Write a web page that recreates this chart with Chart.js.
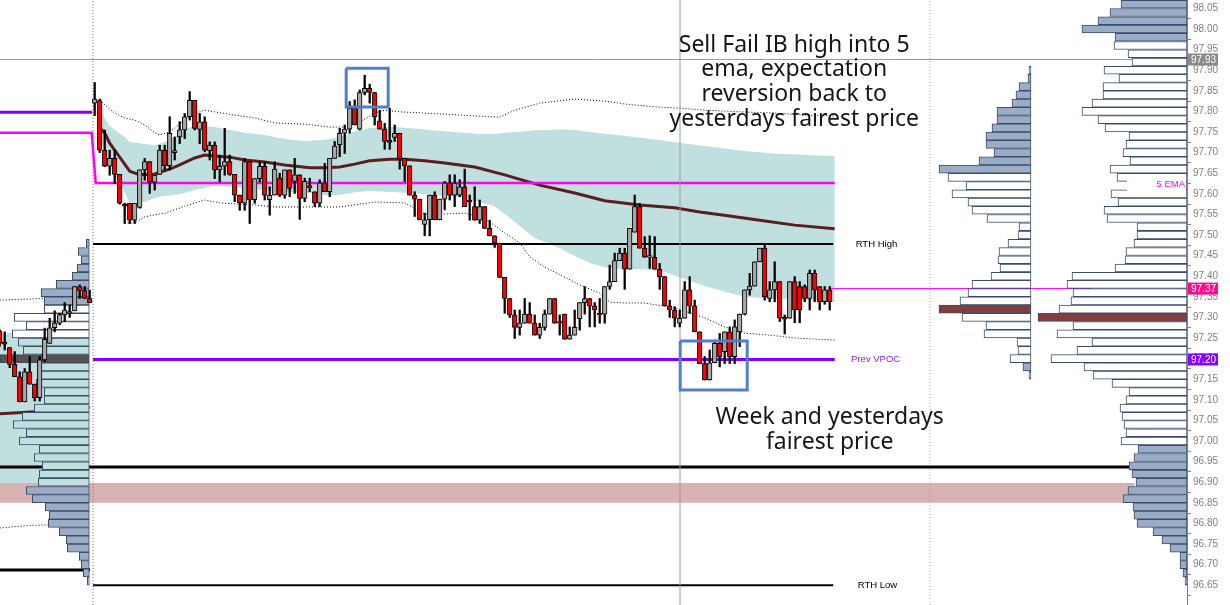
<!DOCTYPE html>
<html>
<head>
<meta charset="utf-8">
<script src="https://cdn.jsdelivr.net/npm/chart.js@4.4.0/dist/chart.umd.min.js"></script>
<style>
  html, body { margin: 0; padding: 0; background: #fff; }
  #wrap { width: 1230px; height: 605px; position: relative; }
</style>
</head>
<body>
<div id="wrap"><canvas id="chart"></canvas></div>
<script>
// right price axis
const priceTicks = [96.65, 96.70, 96.75, 96.80, 96.85, 96.90, 96.95, 97.00, 97.05, 97.10,
  97.15, 97.20, 97.25, 97.30, 97.35, 97.40, 97.45, 97.50, 97.55, 97.60, 97.65, 97.70,
  97.75, 97.80, 97.85, 97.90, 97.95, 98.00, 98.05];

// candles: 19 from the prior session (index -19..-1), then today's RTH bars (0..147)
const firstIndex = -19;
const opens = [
  97.267, 97.240, 97.227, 97.186, 97.156, 97.095, 97.168, 97.138, 97.105, 97.197,
  97.237, 97.275, 97.286, 97.306, 97.310, 97.316, 97.375, 97.365, 97.346,
  97.820, 97.826, 97.706, 97.667, 97.686, 97.647, 97.575, 97.577, 97.536, 97.567,
  97.658, 97.678, 97.628, 97.647, 97.706, 97.668, 97.700, 97.738, 97.755, 97.787,
  97.827, 97.756, 97.775, 97.705, 97.718, 97.658, 97.667, 97.678, 97.647, 97.597,
  97.577, 97.678, 97.586, 97.637, 97.667, 97.586, 97.597, 97.638, 97.597, 97.658,
  97.630, 97.646, 97.589, 97.620, 97.605, 97.577, 97.626, 97.605, 97.686, 97.719,
  97.747, 97.757, 97.808, 97.757, 97.846, 97.856, 97.846, 97.777, 97.757, 97.730,
  97.737, 97.747, 97.686, 97.668, 97.597, 97.587, 97.526, 97.537, 97.597, 97.537,
  97.587, 97.626, 97.597, 97.597, 97.617, 97.585, 97.569, 97.536, 97.569, 97.516,
  97.498, 97.480, 97.397, 97.346, 97.306, 97.276, 97.286, 97.308, 97.286, 97.257,
  97.276, 97.308, 97.346, 97.290, 97.308, 97.247, 97.257, 97.297, 97.336, 97.346,
  97.328, 97.310, 97.308, 97.375, 97.387, 97.438, 97.456, 97.417, 97.507, 97.569,
  97.468, 97.446, 97.446, 97.417, 97.399, 97.328, 97.318, 97.286, 97.298, 97.367,
  97.328, 97.265, 97.188, 97.148, 97.190, 97.237, 97.217, 97.265, 97.205, 97.265,
  97.308, 97.367, 97.376, 97.435, 97.468, 97.346, 97.367, 97.387, 97.300, 97.298,
  97.387, 97.375, 97.375, 97.346, 97.407, 97.375, 97.338, 97.367
];
const highs = [
  97.270, 97.265, 97.227, 97.217, 97.168, 97.176, 97.205, 97.138, 97.205, 97.274,
  97.298, 97.316, 97.310, 97.336, 97.330, 97.375, 97.379, 97.375, 97.366,
  97.870, 97.830, 97.755, 97.706, 97.706, 97.647, 97.577, 97.577, 97.577, 97.658,
  97.686, 97.678, 97.645, 97.718, 97.718, 97.787, 97.738, 97.775, 97.795, 97.848,
  97.827, 97.795, 97.787, 97.726, 97.726, 97.694, 97.759, 97.694, 97.647, 97.597,
  97.686, 97.678, 97.637, 97.678, 97.678, 97.617, 97.678, 97.650, 97.658, 97.658,
  97.686, 97.646, 97.638, 97.638, 97.605, 97.634, 97.674, 97.686, 97.727, 97.759,
  97.767, 97.824, 97.828, 97.852, 97.888, 97.866, 97.846, 97.803, 97.771, 97.808,
  97.767, 97.747, 97.686, 97.668, 97.605, 97.587, 97.553, 97.597, 97.605, 97.587,
  97.630, 97.646, 97.646, 97.634, 97.660, 97.597, 97.617, 97.585, 97.569, 97.536,
  97.498, 97.480, 97.397, 97.346, 97.318, 97.318, 97.346, 97.336, 97.306, 97.286,
  97.318, 97.346, 97.346, 97.306, 97.308, 97.277, 97.318, 97.336, 97.375, 97.346,
  97.336, 97.346, 97.375, 97.427, 97.456, 97.468, 97.468, 97.516, 97.597, 97.577,
  97.496, 97.498, 97.496, 97.431, 97.399, 97.342, 97.326, 97.318, 97.387, 97.399,
  97.342, 97.265, 97.205, 97.221, 97.245, 97.261, 97.265, 97.277, 97.294, 97.308,
  97.367, 97.407, 97.435, 97.468, 97.476, 97.387, 97.435, 97.387, 97.306, 97.387,
  97.399, 97.387, 97.379, 97.415, 97.415, 97.375, 97.375, 97.375
];
const lows = [
  97.230, 97.221, 97.178, 97.156, 97.095, 97.095, 97.138, 97.097, 97.097, 97.193,
  97.237, 97.265, 97.282, 97.290, 97.300, 97.316, 97.346, 97.346, 97.336,
  97.790, 97.700, 97.666, 97.645, 97.625, 97.575, 97.528, 97.528, 97.528, 97.565,
  97.633, 97.601, 97.609, 97.647, 97.658, 97.658, 97.682, 97.722, 97.734, 97.779,
  97.755, 97.722, 97.702, 97.682, 97.637, 97.629, 97.645, 97.645, 97.581, 97.560,
  97.560, 97.528, 97.577, 97.629, 97.585, 97.548, 97.597, 97.593, 97.589, 97.593,
  97.601, 97.538, 97.581, 97.605, 97.569, 97.569, 97.605, 97.593, 97.686, 97.690,
  97.698, 97.747, 97.767, 97.755, 97.840, 97.820, 97.767, 97.757, 97.708, 97.708,
  97.727, 97.660, 97.630, 97.597, 97.545, 97.537, 97.498, 97.498, 97.537, 97.537,
  97.561, 97.585, 97.569, 97.593, 97.569, 97.536, 97.536, 97.528, 97.516, 97.498,
  97.470, 97.397, 97.310, 97.300, 97.249, 97.257, 97.286, 97.286, 97.257, 97.249,
  97.269, 97.308, 97.286, 97.257, 97.247, 97.247, 97.257, 97.269, 97.308, 97.277,
  97.277, 97.286, 97.286, 97.368, 97.387, 97.438, 97.368, 97.417, 97.507, 97.468,
  97.446, 97.419, 97.417, 97.368, 97.328, 97.300, 97.277, 97.277, 97.298, 97.310,
  97.265, 97.188, 97.148, 97.148, 97.190, 97.180, 97.188, 97.188, 97.188, 97.229,
  97.306, 97.354, 97.376, 97.435, 97.342, 97.338, 97.338, 97.290, 97.260, 97.298,
  97.287, 97.287, 97.338, 97.318, 97.338, 97.318, 97.332, 97.318
];
const closes = [
  97.237, 97.235, 97.186, 97.156, 97.095, 97.168, 97.138, 97.105, 97.197, 97.247,
  97.275, 97.286, 97.307, 97.318, 97.314, 97.375, 97.365, 97.346, 97.336,
  97.830, 97.706, 97.667, 97.686, 97.647, 97.577, 97.570, 97.536, 97.577, 97.658,
  97.678, 97.629, 97.645, 97.706, 97.668, 97.747, 97.705, 97.755, 97.787, 97.827,
  97.759, 97.775, 97.706, 97.718, 97.658, 97.667, 97.678, 97.647, 97.597, 97.578,
  97.678, 97.586, 97.637, 97.667, 97.597, 97.597, 97.660, 97.597, 97.658, 97.613,
  97.646, 97.589, 97.630, 97.615, 97.577, 97.626, 97.605, 97.686, 97.716, 97.747,
  97.757, 97.808, 97.767, 97.846, 97.856, 97.846, 97.787, 97.757, 97.727, 97.725,
  97.747, 97.686, 97.668, 97.597, 97.587, 97.537, 97.537, 97.597, 97.537, 97.587,
  97.626, 97.597, 97.626, 97.617, 97.569, 97.580, 97.536, 97.569, 97.516, 97.498,
  97.480, 97.397, 97.346, 97.306, 97.276, 97.286, 97.308, 97.286, 97.257, 97.276,
  97.308, 97.346, 97.286, 97.286, 97.247, 97.257, 97.276, 97.336, 97.346, 97.328,
  97.318, 97.306, 97.375, 97.387, 97.438, 97.456, 97.417, 97.516, 97.569, 97.468,
  97.446, 97.450, 97.417, 97.399, 97.328, 97.318, 97.298, 97.298, 97.367, 97.328,
  97.265, 97.188, 97.148, 97.190, 97.237, 97.205, 97.265, 97.205, 97.277, 97.308,
  97.367, 97.376, 97.435, 97.468, 97.350, 97.367, 97.387, 97.298, 97.296, 97.387,
  97.318, 97.318, 97.346, 97.407, 97.367, 97.338, 97.367, 97.338
];

// RTH value band (teal), read at these bar indexes
const bandIdx = [1, 2, 3, 4, 6, 7, 10, 12, 14, 16, 18, 20, 24, 27, 30, 34, 38, 42, 46, 49,
  52, 55, 60, 65, 70, 74, 77, 80, 82, 84, 86, 88, 90, 93, 96, 99, 102, 106, 110, 114,
  118, 122, 126, 130, 136, 142, 148];
const bandUpper = [97.808, 97.784, 97.765, 97.755, 97.738, 97.726, 97.721, 97.718, 97.726, 97.738,
  97.757, 97.765, 97.762, 97.755, 97.748, 97.743, 97.733, 97.728, 97.731, 97.738,
  97.752, 97.760, 97.762, 97.757, 97.752, 97.748, 97.745, 97.745, 97.748, 97.750,
  97.752, 97.754, 97.755, 97.756, 97.755, 97.750, 97.746, 97.741, 97.735, 97.729,
  97.722, 97.716, 97.710, 97.704, 97.698, 97.694, 97.692];
const bandLower = [97.731, 97.706, 97.670, 97.641, 97.602, 97.578, 97.580, 97.590, 97.595, 97.597,
  97.602, 97.609, 97.619, 97.617, 97.612, 97.609, 97.604, 97.604, 97.597, 97.597,
  97.604, 97.607, 97.604, 97.600, 97.595, 97.590, 97.580, 97.570, 97.551, 97.532,
  97.512, 97.493, 97.483, 97.468, 97.449, 97.432, 97.422, 97.417, 97.417, 97.410,
  97.393, 97.376, 97.362, 97.350, 97.345, 97.342, 97.337];

// VWAP (brown)
const vwapIdx = [1, 2, 3, 5, 7, 9, 12, 15, 17, 20, 22, 24, 27, 30, 34, 38, 43, 46, 49, 52,
  55, 59, 62, 66, 70, 76, 82, 89, 96, 102, 109, 116, 121, 127, 133, 140, 148];
const vwapVal = [97.760, 97.748, 97.723, 97.689, 97.655, 97.646, 97.648, 97.660, 97.670, 97.687,
  97.694, 97.692, 97.689, 97.682, 97.677, 97.670, 97.663, 97.663, 97.665, 97.672,
  97.680, 97.684, 97.684, 97.680, 97.675, 97.665, 97.646, 97.621, 97.602, 97.583,
  97.573, 97.566, 97.556, 97.546, 97.536, 97.524, 97.515];
const prevVwapIdx = [-19, -10, -1];
const prevVwapVal = [97.066, 97.072, 97.082];

// deviation bands (dotted)
const upDevIdx = [1, 2, 4, 6, 8, 10, 12, 13, 15, 18, 21, 22, 24, 28, 32, 36, 42, 47, 50, 53,
  56, 58, 61, 69, 76, 81, 84, 89, 96, 102, 106, 112, 117, 122, 129, 136, 142, 148];
const upDevVal = [97.828, 97.816, 97.796, 97.784, 97.779, 97.767, 97.748, 97.743, 97.750, 97.779,
  97.799, 97.803, 97.799, 97.791, 97.784, 97.772, 97.769, 97.762, 97.762, 97.774,
  97.796, 97.803, 97.799, 97.794, 97.789, 97.786, 97.803, 97.820, 97.830, 97.825,
  97.818, 97.811, 97.808, 97.803, 97.799, 97.796, 97.791, 97.789];
const loDevIdx = [6, 8, 10, 12, 14, 16, 18, 20, 22, 25, 29, 32, 36, 42, 49, 53, 56, 62, 66, 70,
  74, 77, 79, 82, 85, 87, 90, 94, 97, 101, 103, 106, 110, 116, 122, 126, 130, 135, 140, 148];
const loDevVal = [97.529, 97.529, 97.544, 97.549, 97.553, 97.561, 97.570, 97.578, 97.585, 97.578,
  97.575, 97.573, 97.568, 97.568, 97.568, 97.575, 97.580, 97.578, 97.551, 97.551,
  97.553, 97.544, 97.532, 97.505, 97.481, 97.447, 97.422, 97.398, 97.379, 97.359,
  97.337, 97.335, 97.335, 97.323, 97.299, 97.277, 97.262, 97.257, 97.250, 97.245];
const prevUpDevIdx = [-19, -10, -1];
const prevUpDevVal = [97.342, 97.346, 97.354];
const prevLoDevIdx = [-19, -13, -1];
const prevLoDevVal = [96.789, 96.795, 96.800];

// levels
const ema5 = [97.748, 97.626];          // prior session, today
const olderVpoc = 97.798;
const prevVpoc = 97.198;
const rthHigh = 97.478;
const rthLow = 96.650;
const weekFair = 96.937;
const fairZone = [96.850, 96.898];
const prevSessionLine = 96.687;
const prevValueBand = [96.897, 97.262];
const lastPrice = 97.37;
const crossPrice = 97.926;
const crossBar = 117.06;

// volume profiles: top row price, 0.02 per row downward
const rowStep = 0.02;
const leftProfTop = 97.48;
const leftProfVol = [3, 11, 8, 12, 17, 33, 48, 45, 45, 75, 63, 77, 71, 66, 89, 51, 49, 53, 45, 45,
  55, 67, 76, 63, 70, 50, 55, 47, 50, 51, 63, 57, 44, 40, 41, 30, 23, 22, 10, 8, 6, 2];
const midProfTop = 97.90;
const midProfVol = [2, 3, 12, 15, 19, 34, 34, 39, 45, 45, 37, 52, 92, 83, 65, 79, 63, 59, 44, 12,
  13, 23, 32, 33, 31, 40, 59, 63, 71, 92, 69, 45, 47, 14, 13, 21, 8, 2];
const rightProfTop = 98.08;
const rightProfVol = [58, 66, 77, 89, 105, 72, 73, 59, 55, 83, 68, 84, 84, 95, 105, 89, 82, 58, 61, 64,
  57, 77, 70, 57, 76, 69, 83, 80, 50, 50, 53, 61, 62, 72, 115, 120, 114, 116, 128, 149,
  114, 130, 95, 110, 136, 103, 94, 75, 58, 61, 67, 65, 63, 61, 66, 49, 53, 58, 55, 51,
  59, 64, 54, 53, 50, 34, 25, 17, 7, 7, 4, 2];

// annotations
const boxes = [
  { from: 50.3, to: 58.7, low: 97.811, high: 97.905 },
  { from: 117.1, to: 130.5, low: 97.124, high: 97.243 }
];
const noteTop = ['Sell Fail IB high into 5', 'ema, expectation', 'reversion back to', 'yesterdays fairest price'];
const noteBottom = ['Week and yesterdays', 'fairest price'];

const X_MIN = -18.94, X_MAX = 218.46, Y_MIN = 96.602, Y_MAX = 98.0704;
const TEAL = '#c0e0df', BLUE = '#9badc6', EDGE = '#3a4d69';

const pts = (xs, ys) => xs.map((x, k) => ({ x, y: ys[k] }));

function line(data, opts) {
  return Object.assign({
    type: 'line', data, xAxisID: 'x', yAxisID: 'y',
    pointRadius: 0, pointHoverRadius: 0, borderWidth: 1, fill: false, tension: 0,
    borderColor: '#000'
  }, opts);
}
function hline(price, i0, i1, opts) {
  return line([{ x: i0, y: price }, { x: i1, y: price }], opts);
}
function vline(bar, opts) {
  return line([{ x: bar, y: Y_MIN }, { x: bar, y: Y_MAX }], opts);
}

// candles
const bars = opens.map((_, k) => firstIndex + k);
const wicks = bars.map((i, k) => ({ x: i, y: [lows[k], highs[k]] }));
const upBodies = [], downBodies = [];
bars.forEach((i, k) => {
  const o = opens[k], c = closes[k];
  if (c >= o) upBodies.push({ x: i, y: [o, c] });
  else downBodies.push({ x: i, y: [c, o] });
});

function profile(top, vols, axisId, vaHigh, vaLow, poc, pocColor, insideColor) {
  const rows = vols.map((v, k) => ({ y: +(top - k * rowStep).toFixed(2), x: [0, v] }));
  const colors = rows.map(r => {
    if (Math.abs(r.y - poc) < 0.001) return pocColor;
    if (r.y > vaHigh + 0.001 || r.y < vaLow - 0.001) return BLUE;
    return insideColor(r.y);
  });
  return {
    type: 'bar', indexAxis: 'y', xAxisID: axisId, yAxisID: 'y', data: rows,
    backgroundColor: colors, borderColor: EDGE, borderWidth: 1, borderSkipped: false,
    barThickness: 8, grouped: false, order: 6
  };
}

const boxSets = boxes.map(b => line([
  { x: b.from, y: b.high }, { x: b.to, y: b.high }, { x: b.to, y: b.low },
  { x: b.from, y: b.low }, { x: b.from, y: b.high }
], { borderColor: '#4f7fcf', borderWidth: 3, borderJoinStyle: 'miter', order: 1 }));

const datasets = [
  // RTH teal band
  line(pts(bandIdx, bandUpper), { borderWidth: 0, fill: '+1', backgroundColor: TEAL, order: 10 }),
  line(pts(bandIdx, bandLower), { borderWidth: 0, order: 10 }),
  // prior session value band block
  line([{ x: X_MIN, y: prevValueBand[1] }, { x: -1.08, y: prevValueBand[1] }],
    { borderWidth: 0, fill: { value: prevValueBand[0] }, backgroundColor: TEAL, order: 10 }),
  // fair price zone
  line([{ x: X_MIN, y: fairZone[1] }, { x: 208, y: fairZone[1] }],
    { borderWidth: 0, fill: { value: fairZone[0] }, backgroundColor: '#d8b1b1', order: 9 }),
  // deviation bands
  line(pts(upDevIdx, upDevVal), { borderDash: [1, 2], order: 8 }),
  line(pts(loDevIdx, loDevVal), { borderDash: [1, 2], order: 8 }),
  line(pts(prevUpDevIdx, prevUpDevVal), { borderDash: [1, 2], order: 8 }),
  line(pts(prevLoDevIdx, prevLoDevVal), { borderDash: [1, 2], order: 8 }),
  // vwap
  line(pts(vwapIdx, vwapVal), { borderColor: '#5a1e1e', borderWidth: 3, order: 8 }),
  line(pts(prevVwapIdx, prevVwapVal), { borderColor: '#5a1e1e', borderWidth: 3, order: 8 }),
  // levels
  line([{ x: X_MIN, y: ema5[0] }, { x: -0.6, y: ema5[0] }, { x: 0.2, y: ema5[1] }, { x: 148, y: ema5[1] }],
    { borderColor: '#ff00ff', borderWidth: 2.5, order: 7 }),
  hline(olderVpoc, X_MIN, -0.5, { borderColor: '#7f00ff', borderWidth: 3, order: 7 }),
  hline(prevVpoc, -0.34, 148, { borderColor: '#7f00ff', borderWidth: 3, order: 7 }),
  hline(rthHigh, -0.34, 147.7, { borderWidth: 2, order: 7 }),
  hline(rthLow, -0.34, 147.7, { borderWidth: 2, order: 7 }),
  hline(weekFair, X_MIN, 207.7, { borderWidth: 3, order: 7 }),
  hline(prevSessionLine, X_MIN, -0.94, { borderWidth: 3, order: 7 }),
  hline(lastPrice, 147, 199.3, { borderColor: '#ff00ff', borderWidth: 1, order: 7 }),
  hline(crossPrice, X_MIN, X_MAX, { borderColor: '#9a9a9a', borderWidth: 1, order: 7 }),
  vline(-0.34, { borderColor: '#777', borderDash: [1, 2], order: 7 }),
  vline(167.06, { borderColor: '#aaa', borderDash: [1, 2], order: 7 }),
  vline(crossBar, { borderColor: '#9a9a9a', borderWidth: 1, order: 4 }),
  // profiles
  profile(leftProfTop, leftProfVol, 'pl', 97.32, 96.90, 97.20, '#5d4f4f', p => p > 97.25 ? '#fff' : TEAL),
  profile(midProfTop, midProfVol, 'pm', 97.64, 97.20, 97.32, '#823e3e', () => '#fff'),
  profile(rightProfTop, rightProfVol, 'pr', 97.96, 97.00, 97.30, '#823e3e', () => '#fff'),
  // candles
  { type: 'bar', data: wicks, xAxisID: 'x', yAxisID: 'y', backgroundColor: '#000', borderWidth: 0,
    barThickness: 1.6, grouped: false, order: 3 },
  { type: 'bar', data: upBodies, xAxisID: 'x', yAxisID: 'y', backgroundColor: '#a8a8a8', borderColor: '#000',
    borderWidth: 1, borderSkipped: false, barThickness: 4.6, grouped: false, order: 2 },
  { type: 'bar', data: downBodies, xAxisID: 'x', yAxisID: 'y', backgroundColor: '#ff0000', borderColor: '#000',
    borderWidth: 1, borderSkipped: false, barThickness: 4.6, grouped: false, order: 2 },
  ...boxSets
];

const overlay = {
  id: 'overlay',
  afterDatasetsDraw(chart) {
    const { ctx, chartArea, scales: { x, y } } = chart;
    ctx.save();
    ctx.textBaseline = 'middle';

    // trade notes
    ctx.fillStyle = '#161616';
    ctx.font = '23px "Noto Sans"';
    ctx.textAlign = 'center';
    const tx = x.getPixelForValue(139.9), ty = y.getPixelForValue(97.961);
    noteTop.forEach((t, k) => ctx.fillText(t, tx, ty + k * 24.7));
    const bx = x.getPixelForValue(147), by = y.getPixelForValue(97.056);
    noteBottom.forEach((t, k) => ctx.fillText(t, bx, by + k * 24.7));

    // level labels
    ctx.font = '9.5px "Liberation Sans"';
    ctx.textAlign = 'right';
    [['RTH High', 160.5, rthHigh, '#000'], ['Prev VPOC', 161.1, prevVpoc, '#8a1aff'], ['RTH Low', 160.5, rthLow, '#000']]
      .forEach(([t, i, p, c]) => { ctx.fillStyle = c; ctx.fillText(t, x.getPixelForValue(i), y.getPixelForValue(p)); });

    // 5 EMA tag on the right profile
    const ey = y.getPixelForValue(ema5[1]);
    ctx.fillStyle = '#fff';
    ctx.fillRect(chartArea.right - 60, ey - 8, 59, 16);
    ctx.fillStyle = '#ff00ff';
    ctx.fillText('5 EMA', chartArea.right - 2, ey + 1);

    // price tags on the axis
    ctx.font = '10px "Liberation Sans"';
    ctx.textAlign = 'left';
    [[crossPrice, '#8a8a8a'], [lastPrice, '#ff0a8c'], [prevVpoc, '#8800ff']].forEach(([p, c]) => {
      const py = y.getPixelForValue(p);
      ctx.fillStyle = c;
      ctx.fillRect(chartArea.right + 1, py - 6, 30, 12);
      ctx.fillStyle = '#fff';
      ctx.fillText(p.toFixed(2), chartArea.right + 4, py + 0.5);
    });
    ctx.restore();
  }
};

const hiddenX = (min, max, reverse) => ({
  type: 'linear', axis: 'x', display: false, min, max, reverse, offset: false, beginAtZero: false
});

new Chart(document.getElementById('chart'), {
  type: 'bar',
  data: { datasets },
  options: {
    responsive: true,
    maintainAspectRatio: false,
    animation: false,
    events: [],
    layout: { padding: 0 },
    plugins: { legend: { display: false }, tooltip: { enabled: false } },
    scales: {
      x: hiddenX(X_MIN, X_MAX, false),
      pl: hiddenX(89.3 - 1187, 89.3, true),
      pm: hiddenX(1031 - 1187, 1031, true),
      pr: hiddenX(0, 1187, true),
      y: {
        type: 'linear', position: 'right', min: Y_MIN, max: Y_MAX, offset: false, beginAtZero: false,
        afterBuildTicks: s => { s.ticks = priceTicks.map(v => ({ value: v })); },
        afterFit: s => { s.width = 43; s.paddingTop = 0; s.paddingBottom = 0; },
        ticks: {
          font: { family: 'Liberation Sans', size: 10 }, color: '#808080', padding: 2,
          callback: v => v.toFixed(2)
        },
        grid: { drawOnChartArea: false, drawTicks: true, tickLength: 4, color: '#808080' },
        border: { display: true, color: '#808080' }
      }
    }
  },
  plugins: [overlay]
});
</script>
</body>
</html>
